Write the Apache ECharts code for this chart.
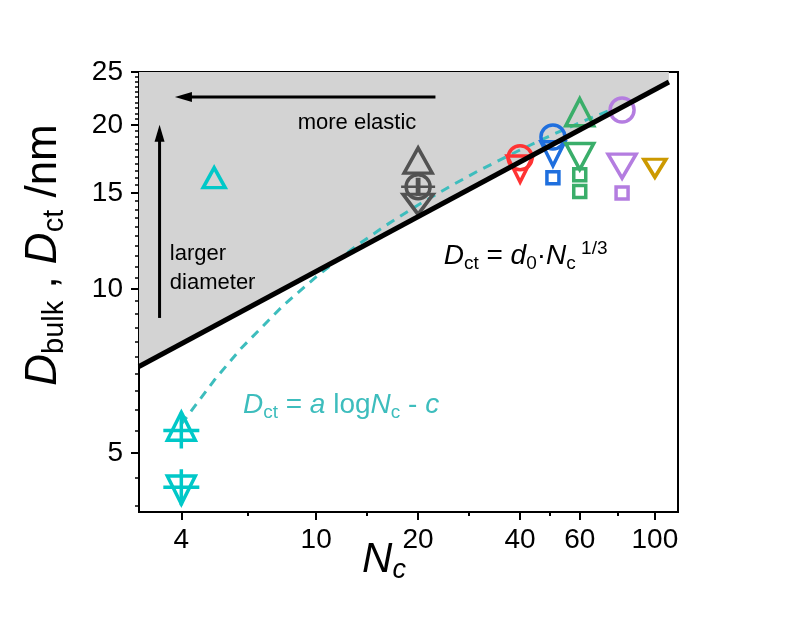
<!DOCTYPE html>
<html><head><meta charset="utf-8">
<script src="https://cdn.jsdelivr.net/npm/echarts@6/dist/echarts.min.js"></script>
<style>html,body{margin:0;padding:0;background:#fff}#c{width:795px;height:619px}</style>
</head><body><div id="c"></div>
<script>
// ---- tick labels ----
const xTickLabels = [4, 10, 20, 40, 60, 100];
const xMinorTicks = [6.3, 14.1, 28.3, 49, 77.5];
const yTickLabels = [5, 10, 15, 20, 25];
const yMinorTicks = [4, 4.5, 5.5, 6, 6.5, 7, 7.5, 8, 8.5, 9, 9.5,
  10.5, 11, 11.5, 12, 12.5, 13, 13.5, 14, 14.5,
  15.5, 16, 16.5, 17, 17.5, 18, 18.5, 19, 19.5,
  20.5, 21, 21.5, 22, 22.5, 23, 23.5, 24, 24.5];

// ---- fitted lines ----
const powerFit = [[3, 7.21], [110, 23.96]];           // D_ct = d0 * Nc^(1/3)
const logFit = [[4, 5.65], [5, 6.8], [6, 7.78], [8, 9.33], [10, 10.53], [13, 11.94],
  [16, 13.06], [20, 14.26], [25, 15.46], [30, 16.45], [40, 17.99], [50, 19.2],
  [60, 20.18], [75, 21.38]];

// ---- data points [Nc, D] ----
const cyanUp = [[4, 5.6]];
const cyanDown = [[4, 4.28]];
const cyanPlus = [[4, 5.5], [4, 4.33]];
const cyanTri = [[5, 16.0]];
const grayUp = [[20, 17.2]];
const grayCircle = [[20, 15.4]];
const grayPlus = [[20, 15.4]];
const grayDown = [[20, 14.3]];
const redCircle = [[40, 17.4]];
const redDown = [[40, 16.6]];
const blueCircle = [[50, 19.0]];
const blueDown = [[50, 17.7]];
const blueSquare = [[50, 16.0]];
const greenUp = [[60, 21.1]];
const greenDown = [[60, 17.5]];
const greenSquare = [[60, 16.2], [60, 15.1]];
const purpleCircle = [[80, 21.3]];
const purpleDown = [[80, 16.8]];
const purpleSquare = [[80, 15.0]];
const goldDown = [[100, 16.65]];

// ---- annotation anchors (data coords) ----
const hArrow = [[22.5, 22.5], [3.83, 22.5]];
const vArrow = [[3.45, 8.85], [3.45, 20.0]];

const C = {cyan:'#00c8c8', gray:'#525252', red:'#ff3333', blue:'#1f6fde',
  green:'#3aae6a', purple:'#b47de0', gold:'#cc9900', fitCyan:'#3dbdbd'};
const FONT = 'Liberation Sans, Arial, sans-serif';
const PLUS = 'path://M10,0L10,20M0,10L20,10';

function sc(data, color, symbol, size, rotate, z) {
  return {type:'scatter', data, symbol, symbolSize:size, symbolRotate:rotate||0,
    itemStyle:{color:'rgba(0,0,0,0)', borderColor:color, borderWidth:3.5, opacity:1},
    z: z||3, silent:true, emphasis:{disabled:true}};
}

const chart = echarts.init(document.getElementById('c'), null, {renderer:'canvas'});
const axisCommon = {type:'log', logBase:10, splitLine:{show:false}, minorTick:{show:false}};
chart.setOption({
  animation:false,
  backgroundColor:'#fff',
  grid:{left:139, top:72, right:117, bottom:107, show:true, borderColor:'#000', borderWidth:2, backgroundColor:'rgba(0,0,0,0)'},
  xAxis:[
    Object.assign({}, axisCommon, {min:3, max:117, position:'bottom',
      axisLine:{show:true, lineStyle:{color:'#000', width:2}},
      axisTick:{show:true, customValues:xTickLabels, length:8, lineStyle:{color:'#000', width:2}},
      axisLabel:{customValues:xTickLabels, fontSize:28, color:'#000', fontFamily:FONT, margin:14}}),
    Object.assign({}, axisCommon, {min:3, max:117, position:'bottom', offset:0,
      axisLine:{show:false}, axisLabel:{show:false},
      axisTick:{show:true, customValues:xMinorTicks, length:4, lineStyle:{color:'#000', width:2}}})
  ],
  yAxis:[
    Object.assign({}, axisCommon, {min:3.9, max:25, position:'left',
      axisLine:{show:true, lineStyle:{color:'#000', width:2}},
      axisTick:{show:true, customValues:yTickLabels, length:8, lineStyle:{color:'#000', width:2}},
      axisLabel:{customValues:yTickLabels, fontSize:28, color:'#000', fontFamily:FONT, margin:16}}),
    Object.assign({}, axisCommon, {min:3.9, max:25, position:'left', offset:0,
      axisLine:{show:false}, axisLabel:{show:false},
      axisTick:{show:true, customValues:yMinorTicks, length:4, lineStyle:{color:'#000', width:1.5}}})
  ],
  series:[
    {type:'line', data:powerFit, symbol:'none', lineStyle:{width:0},
      areaStyle:{color:'#d3d3d3', opacity:1, origin:'end'}, z:1, silent:true},
    {type:'line', data:logFit, symbol:'none', smooth:false,
      lineStyle:{color:C.fitCyan, width:3, type:[9,7]}, z:2, silent:true},
    sc(cyanUp, C.cyan, 'triangle', [28,28]),
    sc(cyanDown, C.cyan, 'triangle', [28,28], 180),
    sc(cyanPlus, C.cyan, PLUS, [36,36]),
    sc(cyanTri, C.cyan, 'triangle', [22,20]),
    sc(grayUp, C.gray, 'triangle', [28,25]),
    sc(grayCircle, C.gray, 'circle', 24),
    sc(grayPlus, C.gray, PLUS, [34,18]),
    sc(grayDown, C.gray, 'triangle', [30,20], 180),
    sc(redCircle, C.red, 'circle', 24),
    sc(redDown, C.red, 'triangle', [26,26], 180),
    sc(blueCircle, C.blue, 'circle', 24),
    sc(blueDown, C.blue, 'triangle', [24,24], 180),
    sc(blueSquare, C.blue, 'rect', 12),
    sc(greenUp, C.green, 'triangle', [28,27]),
    sc(greenDown, C.green, 'triangle', [28,26], 180),
    sc(greenSquare, C.green, 'rect', 12),
    sc(purpleCircle, C.purple, 'circle', 24),
    sc(purpleDown, C.purple, 'triangle', [28,24], 180),
    sc(purpleSquare, C.purple, 'rect', 12),
    sc(goldDown, C.gold, 'triangle', [22,18], 180),
    {type:'line', data:powerFit, symbol:'none', lineStyle:{color:'#000', width:5}, z:5, silent:true}
  ]
});

function px(p){ return chart.convertToPixel({xAxisIndex:0, yAxisIndex:0}, p); }
const h0 = px(hArrow[0]), h1 = px(hArrow[1]);
const v0 = px(vArrow[0]), v1 = px(vArrow[1]);
const txtMore = px([13.2, 20.2]);
const txtLarger = px([3.7, 10.9]);
const txtPow = px([23.8, 11.5]);
const txtLog = px([6.08, 6.12]);

const richBase = (col) => ({
  D:{fontSize:28, fontStyle:'italic', fontFamily:FONT, fill:col, lineHeight:34},
  n:{fontSize:28, fontFamily:FONT, fill:col, lineHeight:34},
  s:{fontSize:19, fontFamily:FONT, fill:col, lineHeight:19, verticalAlign:'bottom'},
  p:{fontSize:19, fontFamily:FONT, fill:col, lineHeight:19, verticalAlign:'top'}
});

chart.setOption({
  graphic:[
    {type:'line', shape:{x1:h0[0], y1:h0[1], x2:h1[0]+15, y2:h1[1]}, style:{stroke:'#000', lineWidth:3}, z:10},
    {type:'polygon', shape:{points:[[h1[0], h1[1]], [h1[0]+17, h1[1]-5], [h1[0]+17, h1[1]+5]]}, style:{fill:'#000'}, z:10},
    {type:'line', shape:{x1:v0[0], y1:v0[1], x2:v1[0], y2:v1[1]+15}, style:{stroke:'#000', lineWidth:3}, z:10},
    {type:'polygon', shape:{points:[[v1[0], v1[1]], [v1[0]-5, v1[1]+17], [v1[0]+5, v1[1]+17]]}, style:{fill:'#000'}, z:10},
    {type:'text', x:txtMore[0], y:txtMore[1], z:10,
      style:{text:'more elastic', font:'22px ' + FONT, fill:'#000', align:'center', verticalAlign:'middle'}},
    {type:'text', x:txtLarger[0], y:txtLarger[1], z:10,
      style:{text:'larger\ndiameter', font:'22px ' + FONT, fill:'#000', align:'left', verticalAlign:'middle', lineHeight:29}},
    {type:'text', x:txtPow[0], y:txtPow[1], z:10,
      style:{text:'{D|D}{s|ct}{n| = }{D|d}{s|0}{n|·}{D|N}{s|c}{p| 1/3}', rich:richBase('#000'),
        align:'left', verticalAlign:'middle'}},
    {type:'text', x:txtLog[0], y:txtLog[1], z:10,
      style:{text:'{D|D}{s|ct}{n| = }{D|a}{n| log}{D|N}{s|c}{n| - }{D|c}', rich:richBase(C.fitCyan),
        align:'left', verticalAlign:'middle'}},
    // axis titles
    {type:'text', x:384, y:560, z:10,
      style:{text:'{D|N}{s|c}', align:'center', verticalAlign:'middle',
        rich:{D:{fontSize:42, fontStyle:'italic', fontFamily:FONT, fill:'#000', lineHeight:48},
              s:{fontSize:27, fontStyle:'italic', fontFamily:FONT, fill:'#000', lineHeight:27, verticalAlign:'bottom'}}}},
    {type:'text', x:44, y:255, rotation:Math.PI/2, z:10,
      style:{text:'{D|D}{s|bulk}{n| , }{D|D}{s|ct}{n| /nm}', align:'center', verticalAlign:'middle',
        rich:{D:{fontSize:44, fontStyle:'italic', fontFamily:FONT, fill:'#000', lineHeight:50},
              n:{fontSize:44, fontFamily:FONT, fill:'#000', lineHeight:50},
              s:{fontSize:29, fontFamily:FONT, fill:'#000', lineHeight:29, verticalAlign:'bottom'}}}}
  ]
});
</script>
</body></html>
